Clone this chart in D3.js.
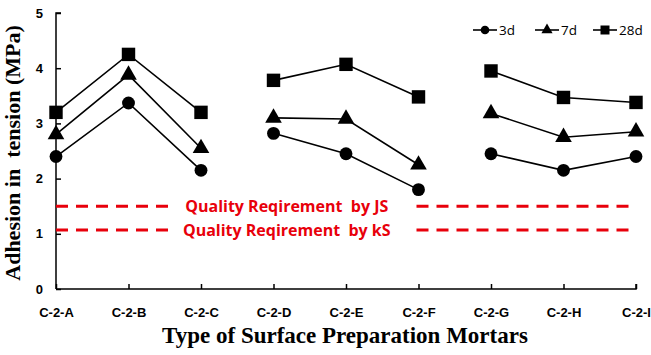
<!DOCTYPE html>
<meta charset="utf-8">
<style>
body { margin: 0; background: #fff; }
svg { font-family: "Open Sans", "Noto Sans", sans-serif; }
svg text { white-space: pre; }
.axis text { font-size: 13px; font-weight: bold; fill: #000; }
.axis path, .axis line { stroke: #000; stroke-width: 1.5px; }
.title { font-family: "Liberation Serif", "DejaVu Serif", serif; font-weight: bold; font-size: 23px; }
.ytitle { font-size: 22px; }
.series path { fill: none; stroke: #000; stroke-width: 1.6px; }
.req { stroke: #e8000b; stroke-width: 3px; stroke-dasharray: 12,8; }
.reqlabel { fill: #e8000b; font-size: 16px; font-weight: bold; }
.legend text { font-size: 13.5px; }
</style>
<body>
<script src="https://cdn.jsdelivr.net/npm/d3@7"></script>
<script>
var categories = ["C-2-A", "C-2-B", "C-2-C", "C-2-D", "C-2-E", "C-2-F", "C-2-G", "C-2-H", "C-2-I"];
var groups = [[0, 1, 2], [3, 4, 5], [6, 7, 8]];
var d3d  = [2.40, 3.37, 2.15, 2.82, 2.45, 1.80, 2.45, 2.15, 2.40];
var d7d  = [2.80, 3.88, 2.55, 3.10, 3.08, 2.25, 3.18, 2.75, 2.85];
var d28d = [3.20, 4.25, 3.20, 3.78, 4.07, 3.48, 3.95, 3.47, 3.38];
var yTicks = [0, 1, 2, 3, 4, 5];
var requirements = [
  {value: 1.5, label: "Quality Reqirement  by JS"},
  {value: 1.07, label: "Quality Reqirement  by kS"}
];
var series = [
  {name: "3d", values: d3d, symbol: d3.symbolCircle, size: 130},
  {name: "7d", values: d7d, symbol: d3.symbolTriangle, size: 120},
  {name: "28d", values: d28d, symbol: d3.symbolSquare, size: 180}
];

var margin = {top: 13, right: 15, bottom: 66, left: 56},
    W = 651, H = 355,
    width = W - margin.left - margin.right,
    height = H - margin.top - margin.bottom;

var svg = d3.select("body").append("svg")
    .attr("width", W)
    .attr("height", H)
  .append("g")
    .attr("transform", "translate(" + margin.left + "," + margin.top + ")");

var x = d3.scalePoint().domain(categories).range([0, width]).padding(0);
var y = d3.scaleLinear().domain([0, 5]).range([height, 0]);

// axes
svg.append("g")
    .attr("class", "axis")
    .call(d3.axisRight(y).tickValues(yTicks).tickSize(5).tickFormat(d3.format("d")))
    .call(function(g) {
      g.select(".domain").attr("d", "M5,0H0V" + height);
      g.selectAll(".tick text").attr("x", -13).attr("text-anchor", "end");
    });

svg.append("g")
    .attr("class", "axis")
    .attr("transform", "translate(0," + height + ")")
    .call(d3.axisTop(x).tickSize(5))
    .call(function(g) {
      g.select(".domain").attr("d", "M0,0H" + width + "V-5");
      g.selectAll(".tick text").attr("y", 23).attr("dy", "0.35em");
    });

// requirement lines
requirements.forEach(function(r) {
  var yy = y(r.value);
  svg.append("line").attr("class", "req")
      .attr("x1", 0).attr("x2", x("C-2-C") - 27).attr("y1", yy).attr("y2", yy);
  svg.append("line").attr("class", "req")
      .attr("x1", x("C-2-F") - 2).attr("x2", width).attr("y1", yy).attr("y2", yy);
  svg.append("text").attr("class", "reqlabel")
      .attr("x", (x("C-2-C") + x("C-2-F")) / 2 - 23)
      .attr("y", yy).attr("dy", "0.35em")
      .attr("text-anchor", "middle")
      .text(r.label);
});

// series
var line = d3.line()
    .x(function(i) { return x(categories[i]); });

series.forEach(function(s) {
  var g = svg.append("g").attr("class", "series");
  line.y(function(i) { return y(s.values[i]); });
  groups.forEach(function(grp) {
    g.append("path").attr("d", line(grp));
  });
  g.selectAll(".pt")
      .data(s.values)
    .enter().append("path")
      .attr("class", "pt")
      .attr("d", d3.symbol().type(s.symbol).size(s.size))
      .attr("transform", function(d, i) { return "translate(" + x(categories[i]) + "," + y(d) + ")"; })
      .style("fill", "#000").style("stroke", "none");
});

// legend
var legend = svg.append("g").attr("class", "legend")
    .attr("transform", "translate(" + (473 - margin.left) + "," + (30 - margin.top) + ")");
var legX = [0, 62, 120];
series.forEach(function(s, i) {
  var lg = legend.append("g").attr("transform", "translate(" + legX[i] + ",0)");
  lg.append("line").attr("x1", 0).attr("x2", 24).attr("y1", 0).attr("y2", 0)
      .attr("stroke", "#000").attr("stroke-width", 1.6);
  lg.append("path")
      .attr("d", d3.symbol().type(s.symbol).size(s.size * 0.45))
      .attr("transform", "translate(12,0)")
      .attr("fill", "#000");
  lg.append("text").attr("x", 26).attr("dy", "0.35em").text(s.name);
});

// titles
svg.append("text").attr("class", "title")
    .attr("x", width / 2 - 1)
    .attr("y", height + 54)
    .attr("text-anchor", "middle")
    .text("Type of Surface Preparation Mortars");

svg.append("text").attr("class", "title ytitle")
    .attr("transform", "translate(" + (-36) + "," + (153 - margin.top) + ") rotate(-90)")
    .attr("text-anchor", "middle")
    .text("Adhesion in  tension (MPa)");
</script>
